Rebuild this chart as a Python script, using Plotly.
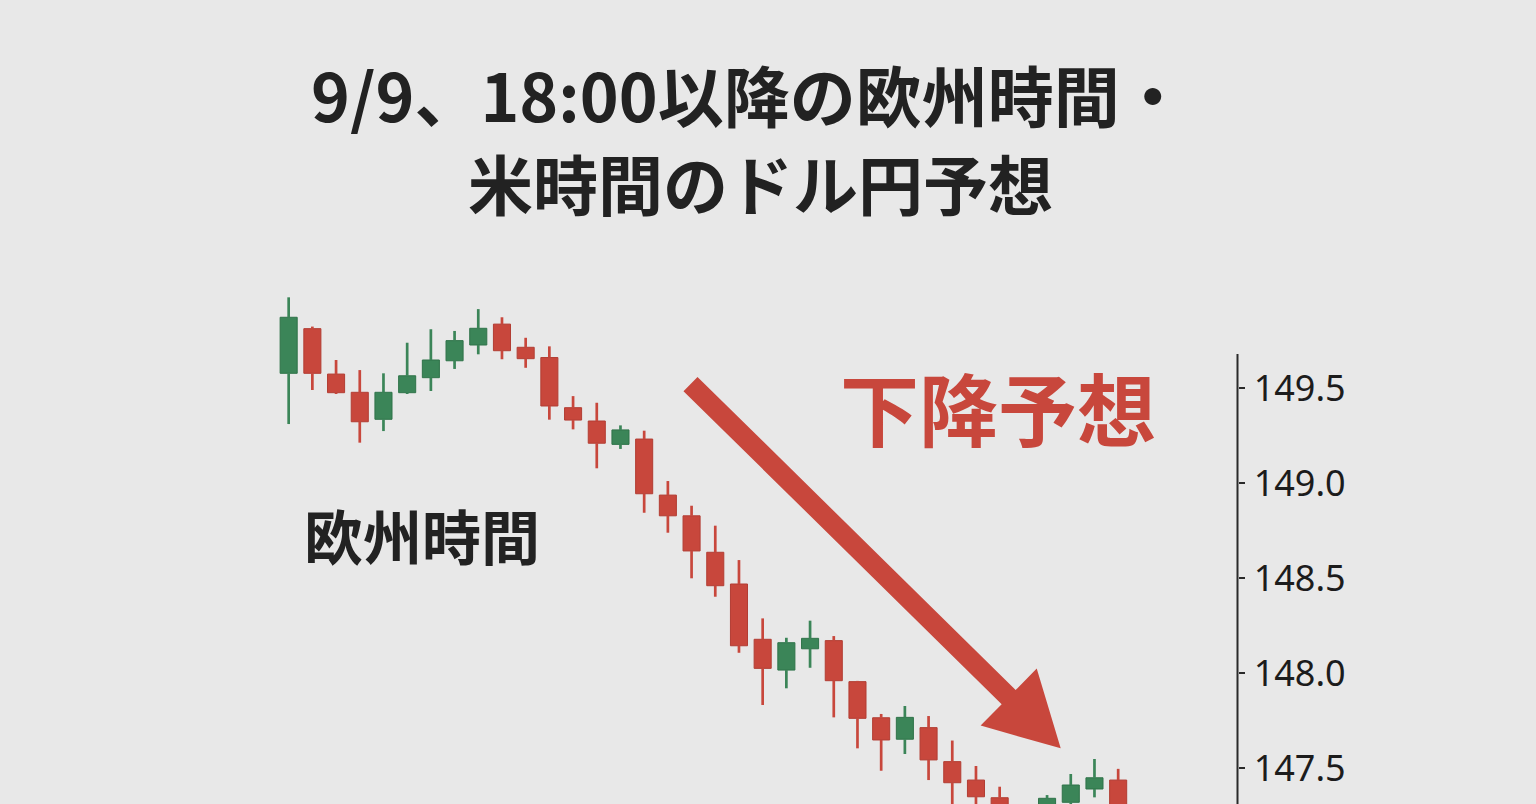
import plotly.graph_objects as go

# ---- data ----
idx = list(range(31)) + [32, 33, 34, 35]
opens = [149.579, 149.814, 149.575, 149.479, 149.337, 149.477, 149.556, 149.645, 149.728, 149.838,
         149.716, 149.662, 149.398, 149.328, 149.205, 149.233, 148.938, 148.829, 148.637, 148.470,
         148.179, 148.017, 148.129, 148.172, 147.956, 147.766, 147.653, 147.714, 147.535, 147.438,
         147.345, 147.260, 147.321, 147.391, 147.438]
highs = [149.979, 149.825, 149.649, 149.596, 149.579, 149.740, 149.811, 149.802, 149.917, 149.874,
         149.766, 149.721, 149.459, 149.424, 149.305, 149.277, 149.012, 148.882, 148.777, 148.596,
         148.289, 148.187, 148.277, 148.196, 147.960, 147.786, 147.828, 147.775, 147.646, 147.512,
         147.403, 147.359, 147.470, 147.549, 147.497]
lows = [149.312, 149.491, 149.470, 149.214, 149.275, 149.470, 149.486, 149.602, 149.679, 149.653,
        149.608, 149.335, 149.284, 149.079, 149.181, 148.845, 148.740, 148.500, 148.403, 148.108,
        147.833, 147.921, 148.029, 147.768, 147.605, 147.487, 147.575, 147.438, 147.300, 147.280,
        147.200, 147.220, 147.280, 147.347, 147.250]
closes = [149.874, 149.579, 149.477, 149.324, 149.479, 149.566, 149.649, 149.751, 149.816, 149.698,
          149.656, 149.407, 149.333, 149.211, 149.281, 148.945, 148.829, 148.644, 148.461, 148.145,
          148.026, 148.161, 148.184, 147.961, 147.763, 147.649, 147.768, 147.544, 147.424, 147.350,
          147.250, 147.342, 147.412, 147.450, 147.300]
tick_vals = [147.5, 148.0, 148.5, 149.0, 149.5]
tick_text = ["147.5", "148.0", "148.5", "149.0", "149.5"]
title_line1 = "9/9、18:00以降の欧州時間・"
title_line2 = "米時間のドル円予想"
label_forecast = "下降予想"
label_session = "欧州時間"

# ---- style ----
W, H = 1536, 804
BG = "#e8e8e8"
GREEN = "#3b8558"
GREEN_EDGE = "#2f7349"
RED = "#c8473c"
RED_EDGE = "#b23d33"
AXIS_X = 1237.5  # px
Y_RANGE = [147.312, 151.544]
X_RANGE = [-12.18, 52.63]
BODY_W = 0.72


def px(x):
    return x / W


def py(y):
    return 1 - y / H


fig = go.Figure()

for is_up, fill, edge in [(True, GREEN, GREEN_EDGE), (False, RED, RED_EDGE)]:
    sel = [k for k in range(len(idx)) if (closes[k] >= opens[k]) == is_up]
    wx, wy = [], []
    for k in sel:
        top = max(opens[k], closes[k])
        bot = min(opens[k], closes[k])
        wx += [idx[k], idx[k], None, idx[k], idx[k], None]
        wy += [highs[k], top, None, bot, lows[k], None]
    fig.add_trace(go.Scatter(x=wx, y=wy, mode="lines", line=dict(color=fill, width=2.7),
                             showlegend=False, hoverinfo="skip"))
    fig.add_trace(go.Bar(
        x=[idx[k] for k in sel],
        y=[abs(closes[k] - opens[k]) for k in sel],
        base=[min(opens[k], closes[k]) for k in sel],
        width=BODY_W, marker=dict(color=fill, line=dict(color=edge, width=1)),
        showlegend=False, hoverinfo="skip"))

# arrow polygon (pixel geometry -> paper)
S = (690.5, 384.0)
T = (1060.7, 748.3)
dx, dy = T[0] - S[0], T[1] - S[1]
L = (dx * dx + dy * dy) ** 0.5
ux, uy = dx / L, dy / L
nx, ny = -uy, ux
hw, hhw, hl = 10.0, 40.0, 73.0
B = (T[0] - hl * ux, T[1] - hl * uy)
pts = [
    (S[0] + hw * nx, S[1] + hw * ny),
    (B[0] + hw * nx, B[1] + hw * ny),
    (B[0] + hhw * nx, B[1] + hhw * ny),
    T,
    (B[0] - hhw * nx, B[1] - hhw * ny),
    (B[0] - hw * nx, B[1] - hw * ny),
    (S[0] - hw * nx, S[1] - hw * ny),
]
path = "M " + " L ".join(f"{px(x):.5f},{py(y):.5f}" for x, y in pts) + " Z"

shapes = [
    dict(type="path", xref="paper", yref="paper", path=path,
         fillcolor=RED, line=dict(width=0), layer="above"),
    dict(type="line", xref="paper", yref="y", x0=px(AXIS_X), x1=px(AXIS_X),
         y0=Y_RANGE[0], y1=149.68, line=dict(color="#2a2a2a", width=2)),
]

annotations = [
    dict(text=f"<b>{title_line1}</b>", x=px(748), y=py(93), xref="paper", yref="paper",
         showarrow=False, xanchor="center", yanchor="middle",
         font=dict(family="Noto Sans CJK JP", size=66, color="#222222")),
    dict(text=f"<b>{title_line2}</b>", x=px(760), y=py(182), xref="paper", yref="paper",
         showarrow=False, xanchor="center", yanchor="middle",
         font=dict(family="Noto Sans CJK JP", size=65, color="#222222")),
    dict(text=f"<b>{label_forecast}</b>", x=px(998), y=py(406), xref="paper", yref="paper",
         showarrow=False, xanchor="center", yanchor="middle",
         font=dict(family="Noto Sans CJK JP", size=79, color=RED)),
    dict(text=f"<b>{label_session}</b>", x=px(422), y=py(534), xref="paper", yref="paper",
         showarrow=False, xanchor="center", yanchor="middle",
         font=dict(family="Noto Sans CJK JP", size=59, color="#222222")),
]

fig.update_layout(
    width=W, height=H,
    margin=dict(l=0, r=0, t=0, b=0),
    paper_bgcolor=BG, plot_bgcolor=BG,
    barmode="overlay",
    xaxis=dict(range=X_RANGE, visible=False, showgrid=False, zeroline=False),
    yaxis=dict(range=Y_RANGE, side="right", anchor="free", position=px(AXIS_X),
               tickvals=tick_vals, ticktext=tick_text, ticks="outside", ticklen=6,
               tickwidth=1.5, tickcolor="#2a2a2a", showline=False, showgrid=False,
               zeroline=False, ticklabelstandoff=2,
               tickfont=dict(family="Noto Sans", size=36, color="#1c1c1c")),
    shapes=shapes,
    annotations=annotations,
)

fig.write_html("out.html", config={"displayModeBar": False},
               post_script="document.body.style.margin='0';document.body.style.overflow='hidden';")
